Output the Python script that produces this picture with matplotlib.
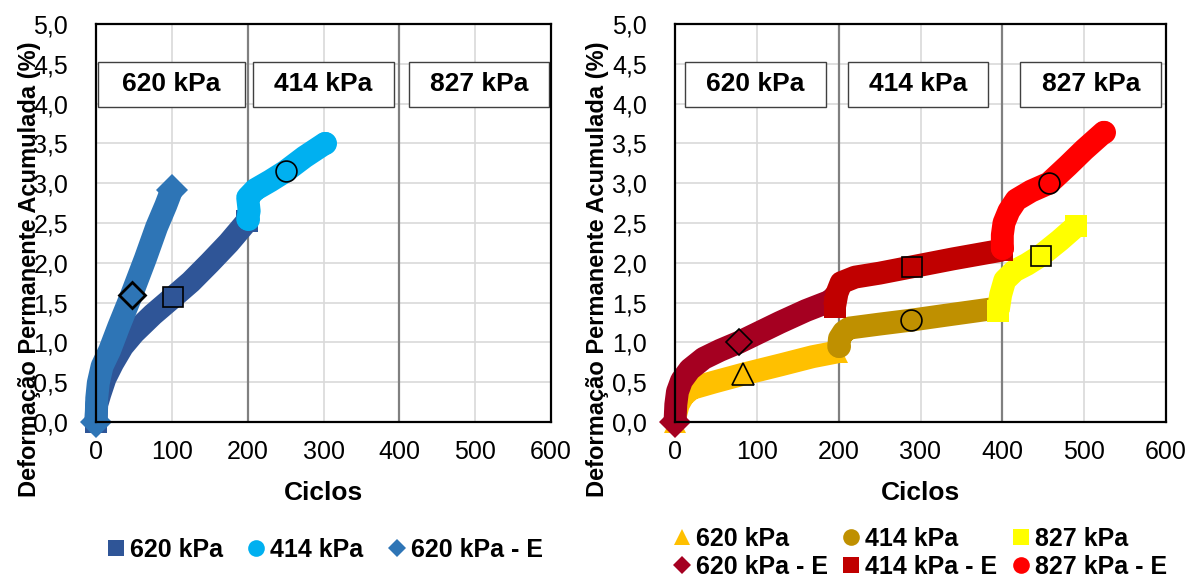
"""
Deformacao permanente acumulada vs ciclos - dois ensaios com estagios de tensao
(620 / 414 / 827 kPa). Gera out.png com os dois paineis lado a lado.
"""
import matplotlib
matplotlib.use('Agg')
import matplotlib.pyplot as plt
from matplotlib.lines import Line2D
from matplotlib.patches import Rectangle

# ---- painel esquerdo ----
L620_X = [0, 1, 5, 12, 22, 35, 50, 75, 102, 125, 150, 175, 199]
L620_Y = [0, 0.22, 0.35, 0.55, 0.74, 0.95, 1.12, 1.35, 1.57, 1.76, 2.0, 2.25, 2.52]
L414_X = [200, 202, 200, 210, 230, 250, 275, 302]
L414_Y = [2.55, 2.65, 2.82, 2.92, 3.03, 3.15, 3.33, 3.5]
L620E_X = [0, 1, 3, 8, 18, 30, 47, 65, 80, 92, 100]
L620E_Y = [0, 0.3, 0.49, 0.7, 0.9, 1.2, 1.6, 2.05, 2.45, 2.72, 2.92]

# ---- painel direito ----
R620_X = [0, 1, 4, 10, 20, 47, 83, 130, 168, 198]
R620_Y = [0, 0.1, 0.22, 0.33, 0.42, 0.5, 0.6, 0.72, 0.82, 0.88]
R414_X = [200, 201, 206, 213, 250, 289, 330, 365, 393]
R414_Y = [0.95, 1.05, 1.13, 1.18, 1.23, 1.28, 1.34, 1.39, 1.43]
R827_X = [395, 398, 403, 415, 430, 447, 470, 490]
R827_Y = [1.4, 1.6, 1.78, 1.9, 1.98, 2.09, 2.28, 2.46]
R620E_X = [0, 1, 3, 8, 18, 35, 55, 78, 128, 160, 190]
R620E_Y = [0, 0.22, 0.38, 0.52, 0.66, 0.8, 0.9, 1.0, 1.25, 1.4, 1.52]
R414E_X = [195, 198, 203, 220, 250, 290, 340, 400]
R414E_Y = [1.45, 1.62, 1.75, 1.82, 1.87, 1.95, 2.05, 2.16]
R827E_X = [400, 400, 402, 408, 417, 435, 457, 480, 500, 524]
R827E_Y = [2.18, 2.35, 2.5, 2.65, 2.79, 2.9, 3.0, 3.22, 3.42, 3.64]

# pontos destacados (borda preta) - (x, y)
HL_LEFT = {'620': (102, 1.57), '414': (250, 3.15), '620E': (47, 1.6)}
HL_RIGHT = {'620': (83, 0.6), '414': (289, 1.28), '827': (447, 2.09),
            '620E': (78, 1.0), '414E': (290, 1.95), '827E': (457, 3.0)}

STAGES = ['620 kPa', '414 kPa', '827 kPa']
BOX_LEFT = [(2.6, 196.6), (207, 393), (412.5, 597.6)]
BOX_RIGHT = [(12, 185), (211, 383), (422, 594)]

FONT = 'Liberation Sans'
LW = 16.5


def draw_series(ax, x, y, color, marker, cap, hl, hl_size, hl_ew=1.2):
    ax.plot(x, y, color=color, lw=LW, solid_capstyle=cap,
            solid_joinstyle='round', marker=marker, markersize=LW,
            markevery=[0, len(x) - 1], markeredgewidth=0, zorder=4,
            clip_on=False)
    ax.plot([hl[0]], [hl[1]], linestyle='none', marker=marker,
            markersize=hl_size, markerfacecolor=color,
            markeredgecolor='black', markeredgewidth=hl_ew, zorder=5)


def style_axes(ax, boxes, ylab_x):
    ax.set_xlim(0, 600)
    ax.set_ylim(0, 5)
    ax.set_xticks(range(0, 601, 100))
    ax.set_yticks([i * 0.5 for i in range(11)])
    ax.set_yticklabels([f"{i * 0.5:.1f}".replace('.', ',') for i in range(11)])
    ax.tick_params(length=0, labelsize=18)
    ax.tick_params(axis='y', pad=20)
    ax.tick_params(axis='x', pad=13)
    ax.grid(True, color='#d9d9d9', lw=1.2, zorder=0)
    ax.set_axisbelow(True)
    for s in ax.spines.values():
        s.set_linewidth(1.6)
        s.set_color('black')
        s.set_zorder(6)
    for xv in (200, 400):
        ax.axvline(xv, color='#808080', lw=1.6, zorder=1)
    for (x0, x1), lab in zip(boxes, STAGES):
        ax.add_patch(Rectangle((x0, 3.96), x1 - x0, 0.56, facecolor='white',
                               edgecolor='#404040', lw=1.0, zorder=3))
        ax.text((x0 + x1) / 2, 4.24, lab, ha='center', va='center',
                fontsize=19, fontweight='bold', zorder=4)
    ax.set_xlabel('Ciclos', fontsize=19, fontweight='bold')
    ax.xaxis.set_label_coords(0.5, -0.148)
    ax.set_ylabel('Deformação Permanente Acumulada (%)', fontsize=17,
                  fontweight='bold')
    ax.yaxis.set_label_coords(ylab_x, 0.385)


def legend_handle(marker, color, size):
    return Line2D([], [], linestyle='none', marker=marker, color=color,
                  markersize=size, markeredgewidth=0)


def main():
    plt.rcParams['font.family'] = [FONT, 'DejaVu Sans']
    fig = plt.figure(figsize=(11.95, 5.81), dpi=100)
    ax1 = fig.add_axes([96 / 1195, 159 / 581, 455 / 1195, 398 / 581])
    ax2 = fig.add_axes([675 / 1195, 159 / 581, 491 / 1195, 398 / 581])

    # esquerdo
    c620, c414, c620e = '#2F5597', '#00B0F0', '#2E75B6'
    draw_series(ax1, L620_X, L620_Y, c620, 's', 'butt', HL_LEFT['620'], 14)
    draw_series(ax1, L414_X, L414_Y, c414, 'o', 'round', HL_LEFT['414'], 15)
    draw_series(ax1, L620E_X, L620E_Y, c620e, 'D', 'butt', HL_LEFT['620E'], 13,
                hl_ew=2.0)
    style_axes(ax1, BOX_LEFT, -0.12)

    # direito
    cols = {'620': '#FFC000', '414': '#BF9000', '827': '#FFFF00',
            '620E': '#A50021', '414E': '#C00000', '827E': '#FF0000'}
    draw_series(ax2, R620_X, R620_Y, cols['620'], '^', 'butt', HL_RIGHT['620'], 16)
    draw_series(ax2, R414_X, R414_Y, cols['414'], 'o', 'round', HL_RIGHT['414'], 15)
    draw_series(ax2, R827_X, R827_Y, cols['827'], 's', 'butt', HL_RIGHT['827'], 14)
    draw_series(ax2, R620E_X, R620E_Y, cols['620E'], 'D', 'butt', HL_RIGHT['620E'], 13)
    draw_series(ax2, R414E_X, R414E_Y, cols['414E'], 's', 'butt', HL_RIGHT['414E'], 14)
    draw_series(ax2, R827E_X, R827E_Y, cols['827E'], 'o', 'round', HL_RIGHT['827E'], 15)
    style_axes(ax2, BOX_RIGHT, -0.134)

    h_left = [legend_handle('s', c620, 12), legend_handle('o', c414, 12),
              legend_handle('D', c620e, 9)]
    fig.legend(h_left, ['620 kPa', '414 kPa', '620 kPa - E'], ncol=3,
               loc='center', bbox_to_anchor=(325 / 1195, 31 / 581),
               frameon=False, prop={'weight': 'bold', 'size': 18},
               handlelength=0.7, handletextpad=0.2, columnspacing=1.0)

    h_right = [legend_handle('^', cols['620'], 12),
               legend_handle('D', cols['620E'], 9),
               legend_handle('o', cols['414'], 12),
               legend_handle('s', cols['414E'], 12),
               legend_handle('s', cols['827'], 12),
               legend_handle('o', cols['827E'], 12)]
    labs_right = ['620 kPa', '620 kPa - E', '414 kPa', '414 kPa - E',
                  '827 kPa', '827 kPa - E']
    fig.legend(h_right, labs_right, ncol=3, loc='upper left',
               bbox_to_anchor=(658 / 1195, 69 / 581), frameon=False,
               prop={'weight': 'bold', 'size': 18}, handlelength=0.7,
               handletextpad=0.2, columnspacing=0.6, labelspacing=0.15,
               borderpad=0.1)

    fig.savefig('out.png', dpi=100)
    plt.close(fig)


if __name__ == '__main__':
    main()
